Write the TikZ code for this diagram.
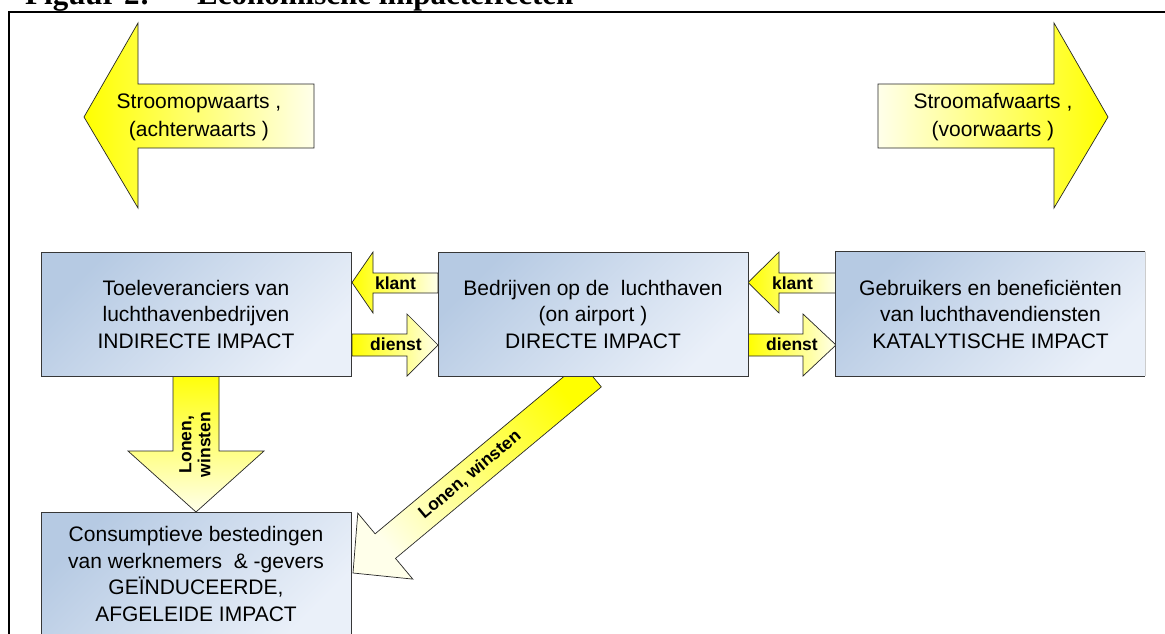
\documentclass[tikz,border=0pt]{standalone}
\usepackage{fontspec}
\setmainfont{Liberation Sans}
\newfontfamily\titlefont{Liberation Serif}
\definecolor{boxdark}{RGB}{182,202,227}
\definecolor{boxlight}{RGB}{234,240,249}
\definecolor{boxline}{RGB}{55,55,55}
\definecolor{ylw}{RGB}{255,255,0}
\definecolor{paleY}{RGB}{255,255,234}
\begin{document}
\begin{tikzpicture}[x=1pt,y=-1pt,
  box/.style={draw=boxline, line width=0.8pt, top color=boxdark, bottom color=boxlight, shading angle=45,
    minimum width=310pt, minimum height=124pt, inner sep=0pt, align=center,
    font=\fontsize{21}{26.5}\selectfont},
  blockarrow/.style={draw=black!85, line width=0.7pt, line join=miter},
  bigtxt/.style={align=center, inner sep=0pt, font=\fontsize{21}{28}\selectfont},
  smalltxt/.style={inner sep=0pt, font=\bfseries\fontsize{17.5}{19}\selectfont},
  titletxt/.style={anchor=base west, inner sep=0pt, font=\titlefont\bfseries\fontsize{31}{34}\selectfont}
]
\useasboundingbox (0,0) rectangle (1165,633);
\fill[white] (0,0) rectangle (1165,633);

% title (cut off at the top)
\node[titletxt] (t1) at (25,4.5) {Figuur 2:};
\node[titletxt] (t2) at (197,4.5) {Economische impacteffecten};

% frame
\draw[line width=2pt] (9,640) -- (9,12) -- (1170,12);

% big arrows
\path[blockarrow, left color=ylw, right color=paleY]
  (84,117) -- (138,23) -- (138,84) -- (314,84) -- (314,148) -- (138,148) -- (138,208) -- cycle;
\node[bigtxt] (up) at (199,117.5) {Stroomopwaarts ,\\(achterwaarts )};
\path[blockarrow, left color=paleY, right color=ylw]
  (878,84) -- (1054,84) -- (1054,23) -- (1108,117) -- (1054,208) -- (1054,148) -- (878,148) -- cycle;
\node[bigtxt] (down) at (993,117.5) {Stroomafwaarts ,\\(voorwaarts )};

% diagonal arrow B -> D
\path[blockarrow, top color=ylw, bottom color=paleY, shading angle=-50]
  (353,573) -- (412.8,579.1) -- (395.5,558.4) -- (601.3,386.9) -- (580.9,362.3)
  -- (375.1,533.8) -- (357.8,513.1) -- cycle;
\node[smalltxt, rotate=40] (lw2) at (470,475) {Lonen, winsten};

% vertical arrow A -> D
\path[blockarrow, top color=ylw, bottom color=paleY]
  (173,370) -- (219,370) -- (219,451) -- (264,451) -- (196,512) -- (128,451) -- (173,451) -- cycle;
\node[smalltxt, rotate=90, align=center] (lw1) at (195,444.5) {Lonen,\\winsten};

% klant / dienst arrows
\path[blockarrow, left color=ylw, right color=paleY]
  (352,282.5) -- (373,252) -- (373,273) -- (438,273) -- (438,293) -- (373,293) -- (373,313) -- cycle;
\node[smalltxt, anchor=base] (k1) at (395.5,289) {klant};
\path[blockarrow, left color=ylw, right color=paleY]
  (352,334) -- (407,334) -- (407,314) -- (438,345) -- (407,376) -- (407,356) -- (352,356) -- cycle;
\node[smalltxt, anchor=base] (d1) at (396,350) {dienst};
\path[blockarrow, left color=ylw, right color=paleY]
  (748,282.5) -- (779,252) -- (779,273) -- (836,273) -- (836,293) -- (779,293) -- (779,313) -- cycle;
\node[smalltxt, anchor=base] (k2) at (792.5,289) {klant};
\path[blockarrow, left color=ylw, right color=paleY]
  (748,334) -- (803,334) -- (803,314) -- (836,345) -- (803,376) -- (803,356) -- (748,356) -- cycle;
\node[smalltxt, anchor=base] (d2) at (792,350) {dienst};

% boxes
\node[box] (A) at (196,314) {Toeleveranciers van\\luchthavenbedrijven\\INDIRECTE IMPACT};
\node[box] (B) at (593,314) {Bedrijven op de\ \ luchthaven\\(on airport )\\DIRECTE IMPACT};
\node[box, draw=none, minimum width=309pt] (C) at (990.5,314) {Gebruikers en beneficiënten\\van luchthavendiensten\\KATALYTISCHE IMPACT};
\draw[boxline, line width=0.8pt] (C.north east) -- (C.north west) -- (C.south west) -- (C.south east);
\draw[black!20, line width=0.8pt] (C.north east) -- (C.south east);
\node[box] (D) at (196,574) {Consumptieve bestedingen\\van werknemers\ \ \& -gevers\\GEÏNDUCEERDE,\\AFGELEIDE IMPACT};
\end{tikzpicture}
\end{document}
